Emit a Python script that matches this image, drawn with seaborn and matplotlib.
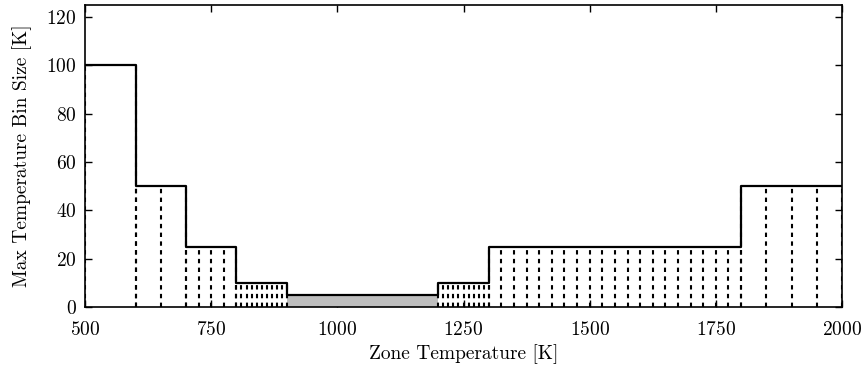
import matplotlib
matplotlib.use("Agg")
import matplotlib.pyplot as plt
import numpy as np
import pandas
import seaborn as sns

# Zone temperature ranges [K] and the max bin size used in each range [K]
region_edges = [500, 600, 700, 800, 900, 1200, 1300, 1800, 2000]
bin_sizes = [100, 50, 25, 10, 5, 10, 25, 50]
shaded_region = (900, 1200)

x_ticks = [500, 750, 1000, 1250, 1500, 1750, 2000]
y_ticks = [0, 20, 40, 60, 80, 100, 120]


def main():
    sns.set_style("ticks")
    plt.rcParams["font.family"] = ["cmr10", "DejaVu Serif"]
    plt.rcParams["axes.formatter.use_mathtext"] = True
    plt.rcParams["mathtext.fontset"] = "cm"
    plt.rcParams["text.color"] = "black"
    plt.rcParams["axes.labelcolor"] = "black"
    plt.rcParams["xtick.color"] = "black"
    plt.rcParams["ytick.color"] = "black"
    plt.rcParams["axes.edgecolor"] = "black"

    fig = plt.figure(figsize=(8.68, 3.73), dpi=100)
    ax = fig.add_axes([0.098, 0.177, 0.872, 0.81])

    # Dashed lines at every bin edge inside each region
    for start, end, size in zip(region_edges[:-1], region_edges[1:], bin_sizes):
        if (start, end) == shaded_region:
            ax.fill_between([start, end], 0, size, color="#bebebe", lw=0, zorder=1)
            continue
        edges = np.arange(start, end + size / 2, size)
        ax.vlines(edges, 0, size, colors="black", linewidth=1.5,
                  linestyles=(0, (2.1, 2.1)), zorder=2)

    # Step outline of the max bin size
    df = pandas.DataFrame({
        "temp": region_edges,
        "size": bin_sizes + [bin_sizes[-1]],
    })
    sns.lineplot(data=df, x="temp", y="size", drawstyle="steps-post",
                 estimator=None, color="black", linewidth=1.6, ax=ax, zorder=3)

    ax.set_xlim(500, 2000)
    ax.set_ylim(0, 125)
    ax.set_xticks(x_ticks)
    ax.set_yticks(y_ticks)
    ax.tick_params(direction="in", top=True, right=True, length=5, width=1,
                   labelsize=14)
    ax.tick_params(axis="x", pad=10)
    ax.tick_params(axis="y", pad=6)
    for spine in ax.spines.values():
        spine.set_linewidth(1.2)
    ax.set_xlabel("Zone Temperature [K]", fontsize=14, labelpad=4)
    ax.set_ylabel("Max Temperature Bin Size [K]", fontsize=14, labelpad=10)

    fig.savefig("out.png", dpi=100)
    plt.close(fig)


if __name__ == "__main__":
    main()
